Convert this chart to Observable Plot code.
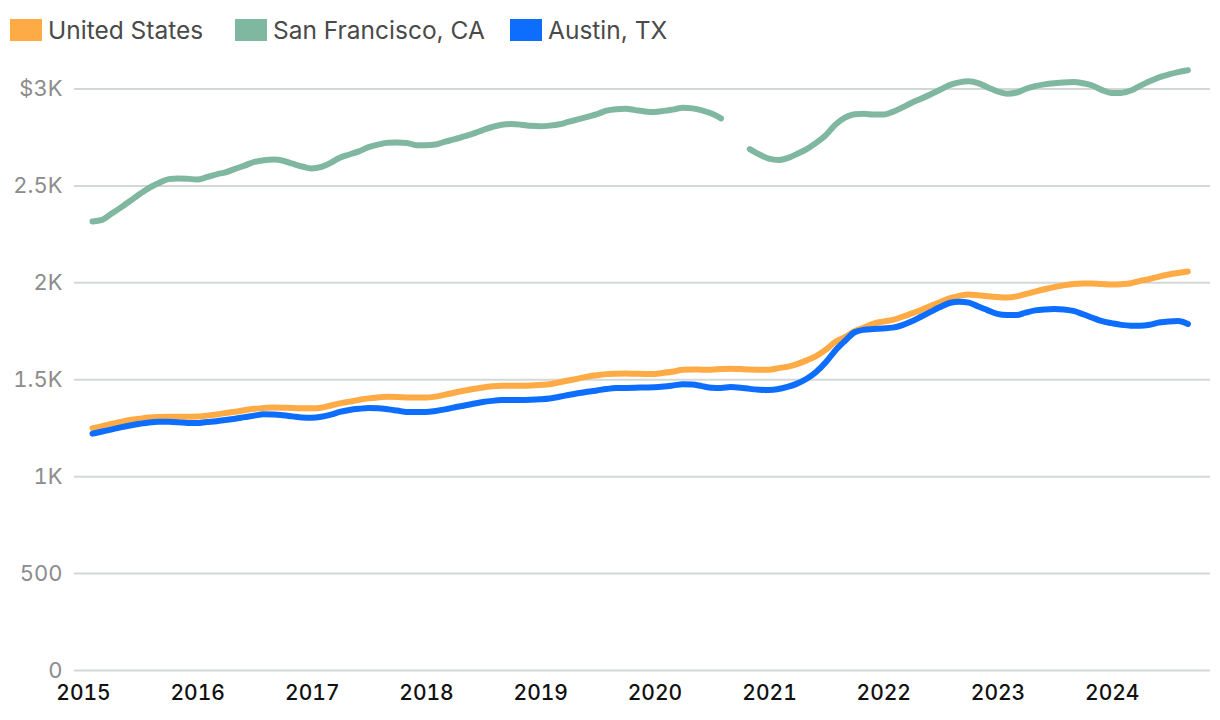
<!DOCTYPE html>
<html>
<head>
<meta charset="utf-8">
<script src="https://cdn.jsdelivr.net/npm/d3@7"></script>
<script src="https://cdn.jsdelivr.net/npm/@observablehq/plot@0.6"></script>
<style>
  body { margin: 0; background: #fff; font-family: Inter, "Noto Sans", sans-serif; }
  #legend { position: relative; width: 1220px; height: 56px; }
  .sw { position: absolute; top: 19px; width: 32px; height: 22px; }
  .lb { position: absolute; top: 30px; transform: translateY(-50%); font-size: 24.5px; color: #4a4a4a; white-space: nowrap; }
  #chart svg { display: block; }
</style>
</head>
<body>
<div id="legend"></div>
<div id="chart"></div>
<script>
// ---- data (monthly, starting Jan 2015) ----
const startYear = 2015;
const seriesNames = ["United States", "San Francisco, CA", "Austin, TX"];
const seriesColors = ["#ffab45", "#80b7a1", "#0d6efd"];
const yTicks = [0, 500, 1000, 1500, 2000, 2500, 3000];
const yTickLabels = ["0", "500", "1K", "1.5K", "2K", "2.5K", "$3K"];
const xTickYears = [2015, 2016, 2017, 2018, 2019, 2020, 2021, 2022, 2023, 2024];

const unitedStates = [
  1250,1261,1272,1282,1292,1299,1305,1308,1309,1309,1309,1310,
  1315,1321,1328,1335,1343,1350,1354,1357,1356,1354,1353,1353,
  1356,1367,1378,1387,1396,1404,1409,1412,1411,1409,1408,1408,
  1413,1423,1433,1443,1452,1460,1466,1469,1469,1469,1470,1473,
  1477,1487,1496,1506,1516,1523,1529,1531,1532,1531,1530,1530,
  1536,1543,1551,1553,1552,1552,1555,1557,1555,1553,1552,1552,
  1560,1568,1581,1600,1622,1655,1695,1720,1750,1770,1790,1800,
  1809,1825,1841,1860,1880,1900,1920,1933,1940,1936,1931,1927,
  1924,1930,1942,1955,1967,1978,1987,1994,1996,1996,1994,1991,
  1993,1998,2010,2020,2032,2043,2051,2058
];
const sanFrancisco = [
  2317,2325,2355,2388,2422,2458,2490,2515,2535,2538,2537,2533,
  2545,2560,2570,2588,2605,2624,2632,2636,2630,2615,2600,2590,
  2598,2620,2645,2662,2678,2700,2713,2723,2724,2722,2710,2710,
  2714,2728,2740,2755,2770,2788,2804,2816,2819,2816,2810,2808,
  2811,2818,2830,2843,2856,2870,2888,2896,2898,2891,2884,2881,
  2887,2895,2903,2900,2890,2873,2848,null,null,2690,2662,2641,
  2634,2645,2665,2690,2722,2762,2815,2852,2870,2872,2868,2868,
  2882,2905,2928,2950,2972,2996,3020,3034,3040,3030,3008,2988,
  2976,2982,3000,3015,3024,3030,3034,3036,3030,3018,2994,2980,
  2980,2992,3016,3040,3060,3075,3087,3097
];
const austin = [
  1222,1233,1243,1254,1264,1273,1280,1283,1283,1281,1277,1277,
  1282,1286,1292,1299,1307,1315,1322,1321,1317,1311,1305,1304,
  1309,1320,1334,1344,1350,1354,1353,1348,1341,1334,1334,1334,
  1339,1347,1357,1366,1376,1385,1391,1395,1396,1396,1397,1399,
  1403,1412,1421,1430,1438,1445,1452,1457,1458,1459,1460,1461,
  1465,1471,1477,1475,1467,1459,1458,1462,1459,1453,1449,1447,
  1452,1464,1480,1505,1540,1590,1650,1700,1745,1758,1762,1765,
  1769,1782,1800,1825,1850,1875,1896,1903,1898,1878,1858,1840,
  1834,1834,1846,1858,1863,1865,1863,1855,1838,1820,1802,1792,
  1783,1779,1779,1784,1795,1801,1803,1788
];

// ---- build table ----
const seriesValues = [unitedStates, sanFrancisco, austin];
const rows = [];
seriesValues.forEach((vals, s) => {
  vals.forEach((v, i) => {
    rows.push({ date: new Date(Date.UTC(startYear, i, 1)), value: v, series: seriesNames[s] });
  });
});

// ---- legend ----
const legend = document.getElementById("legend");
const legendX = [10, 235, 510];
seriesNames.forEach((name, i) => {
  const sw = document.createElement("div");
  sw.className = "sw";
  sw.style.left = legendX[i] + "px";
  sw.style.background = seriesColors[i];
  legend.appendChild(sw);
  const lb = document.createElement("div");
  lb.className = "lb";
  lb.style.left = (legendX[i] + 38) + "px";
  lb.textContent = name;
  legend.appendChild(lb);
});

// ---- scales layout ----
const t0 = Date.UTC(2015, 0, 1), t1 = Date.UTC(2024, 7, 1);
const k = (t1 - t0) / (1187.4 - 92);
const xDomain = [new Date(t0 - 18 * k), new Date(t1 + 22.6 * k)];
const yearDates = xTickYears.map(y => new Date(Date.UTC(y, 0, 1)));

const chart = Plot.plot({
  width: 1220,
  height: 664,
  marginLeft: 74,
  marginRight: 10,
  marginTop: 32.5,
  marginBottom: 50,
  style: { fontFamily: "Inter, 'Noto Sans', sans-serif", background: "#fff" },
  x: { type: "utc", domain: xDomain },
  y: { domain: [0, 3000] },
  color: { domain: seriesNames, range: seriesColors },
  marks: [
    Plot.ruleY(yTicks, { stroke: "#d3d8d6", strokeWidth: 2 }),
    Plot.axisY({
      ticks: yTicks,
      tickFormat: d => yTickLabels[yTicks.indexOf(d)],
      tickSize: 0, tickPadding: 12, fontSize: 22, fill: "#8c8c8c", label: null
    }),
    Plot.axisX({
      ticks: yearDates,
      tickFormat: d => String(d.getUTCFullYear()),
      tickSize: 0, tickPadding: 15, dx: -9, fontSize: 21, fontWeight: 500, fill: "#111", label: null
    }),
    Plot.lineY(rows, {
      x: "date", y: "value", z: "series", stroke: "series",
      strokeWidth: 6, curve: "monotone-x", strokeLinecap: "round", strokeLinejoin: "round"
    })
  ]
});
document.getElementById("chart").appendChild(chart);
</script>
</body>
</html>
